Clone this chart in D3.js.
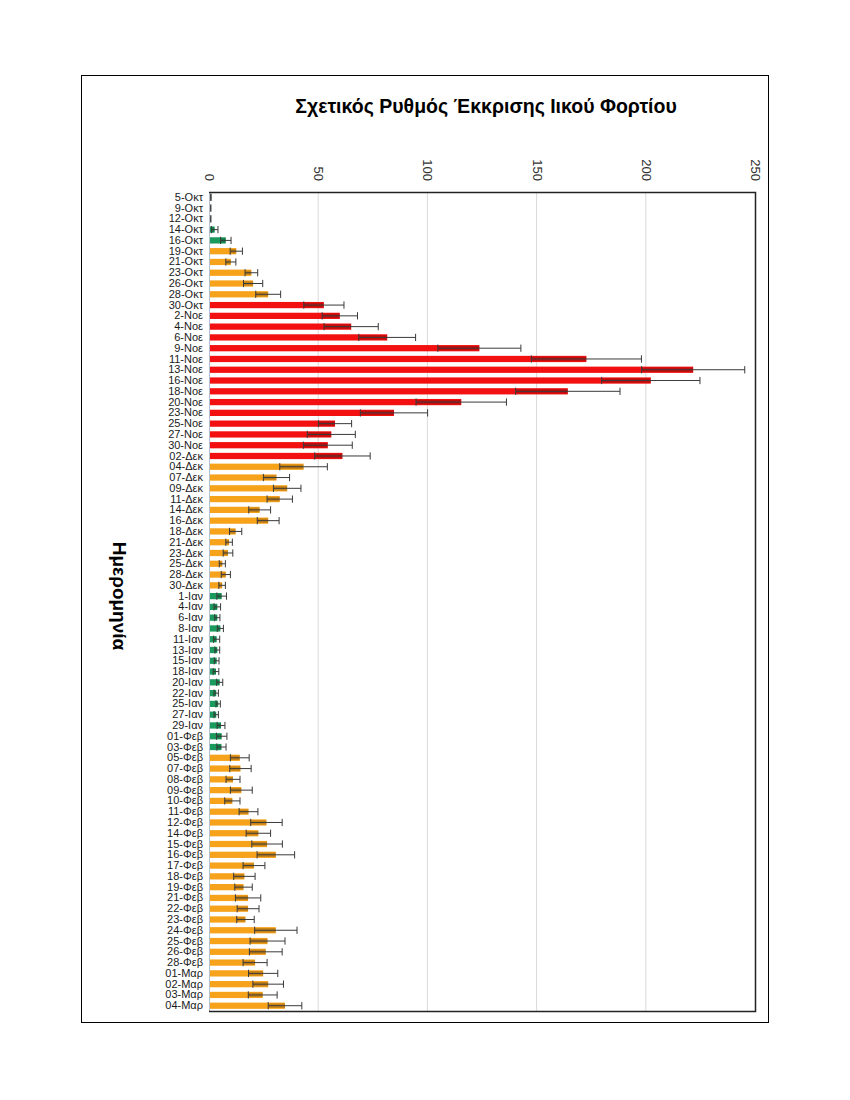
<!DOCTYPE html>
<html>
<head>
<meta charset="utf-8">
<script src="https://cdn.jsdelivr.net/npm/d3@7"></script>
<style>
  body { margin: 0; background: #fff; }
  text { font-family: "Liberation Sans", "Noto Sans", sans-serif; }
</style>
</head>
<body>
<div id="chart"></div>
<script>
var dates = ["5-Οκτ","9-Οκτ","12-Οκτ","14-Οκτ","16-Οκτ","19-Οκτ","21-Οκτ","23-Οκτ","26-Οκτ","28-Οκτ","30-Οκτ",
    "2-Νοε","4-Νοε","6-Νοε","9-Νοε","11-Νοε","13-Νοε","16-Νοε","18-Νοε","20-Νοε","23-Νοε","25-Νοε","27-Νοε","30-Νοε",
    "02-Δεκ","04-Δεκ","07-Δεκ","09-Δεκ","11-Δεκ","14-Δεκ","16-Δεκ","18-Δεκ","21-Δεκ","23-Δεκ","25-Δεκ","28-Δεκ","30-Δεκ",
    "1-Ιαν","4-Ιαν","6-Ιαν","8-Ιαν","11-Ιαν","13-Ιαν","15-Ιαν","18-Ιαν","20-Ιαν","22-Ιαν","25-Ιαν","27-Ιαν","29-Ιαν",
    "01-Φεβ","03-Φεβ","05-Φεβ","07-Φεβ","08-Φεβ","09-Φεβ","10-Φεβ","11-Φεβ","12-Φεβ","14-Φεβ","15-Φεβ","16-Φεβ","17-Φεβ",
    "18-Φεβ","19-Φεβ","21-Φεβ","22-Φεβ","23-Φεβ","24-Φεβ","25-Φεβ","26-Φεβ","28-Φεβ",
    "01-Μαρ","02-Μαρ","03-Μαρ","04-Μαρ"]

var rates = [0.8, 0.7, 0.7, 2.6, 7.7, 12.5, 10, 19.4, 20.2, 27.1, 52.6,
    59.9, 65.1, 81.6, 123.8, 172.8, 221.7, 202.3, 164.3, 115.5, 84.7, 57.7, 56, 54.4,
    61.1, 43.3, 30.9, 35.8, 32.4, 23.2, 27.1, 12.2, 9.2, 8.7, 6.1, 7.7, 6.0,
    5.8, 3.8, 3.8, 5.2, 3.5, 3.8, 3.5, 3.2, 4.9, 3.3, 4.2, 3.3, 5.5,
    5.8, 5.7, 14.1, 14.4, 11, 14.8, 10.7, 18.1, 26.3, 22.6, 26.6, 30.6, 20.6,
    16.2, 15.8, 17.9, 17.9, 16.7, 30.6, 26.8, 26, 21.1,
    24.8, 27.1, 24.6, 34.8]

var errors = [0.2, 0.2, 0.2, 1.5, 2.4, 2.8, 2.3, 2.9, 4.4, 5.7, 9.2,
    8.1, 12.4, 13, 19, 25.2, 23.6, 22.5, 23.9, 20.7, 15.4, 7.6, 11, 11.2,
    12.7, 10.9, 6, 6.3, 5.8, 5, 5, 2.8, 1.5, 2.2, 1.4, 2.1, 1.5,
    2.2, 1.5, 1.2, 1.4, 1.4, 1.1, 1.1, 1.3, 1.4, 1, 1, 1, 1.8,
    2.4, 2.1, 4.3, 4.9, 3.2, 5, 3.5, 4.3, 7.2, 5.6, 7, 8.6, 5,
    4.9, 4, 5.8, 5, 4, 9.7, 8, 7.5, 5.5,
    6.7, 7, 6.6, 7.7]

// n = no signal, g = low, o = medium, r = high
var levels = ["n","n","n","g","g","o","o","o","o","o","r",
    "r","r","r","r","r","r","r","r","r","r","r","r","r",
    "r","o","o","o","o","o","o","o","o","o","o","o","o",
    "g","g","g","g","g","g","g","g","g","g","g","g","g",
    "g","g","o","o","o","o","o","o","o","o","o","o","o",
    "o","o","o","o","o","o","o","o","o",
    "o","o","o","o"]

var xTicks = [0, 50, 100, 150, 200, 250]

var width = 850,
    height = 1100

var plot = { left: 209, right: 755, top: 192, bottom: 1011 }

var data = dates.map(function (d, i) {
    return { date: d, rate: rates[i], err: errors[i], level: levels[i] }
})

var svg = d3.select("#chart")
    .append("svg")
    .attr("width", width)
    .attr("height", height)

svg.append("rect")
    .attr("x", 81.5)
    .attr("y", 75.5)
    .attr("width", 687)
    .attr("height", 947)
    .attr("fill", "#fff")
    .attr("stroke", "#000")

var x = d3.scaleLinear()
    .domain([0, 250])
    .range([plot.left, plot.right])

var y = d3.scaleBand()
    .domain(dates)
    .range([plot.top, plot.bottom])
    .paddingInner(0.42)
    .paddingOuter(0.2)

var color = d3.scaleOrdinal()
    .domain(["n", "g", "o", "r"])
    .range(["#8c8c8c", "#1a9a5c", "#f7a21b", "#f21010"])

// gridlines
svg.append("g")
    .selectAll("line")
    .data(xTicks.slice(1, -1))
    .enter()
    .append("line")
    .attr("x1", function (d) { return x(d) })
    .attr("x2", function (d) { return x(d) })
    .attr("y1", plot.top)
    .attr("y2", plot.bottom)
    .attr("stroke", "#d9d9d9")
    .attr("stroke-width", 1)

// top axis
var xAxis = svg.append("g")
    .attr("transform", "translate(0," + plot.top + ")")
    .call(d3.axisTop(x).tickValues(xTicks).tickSize(0).tickPadding(0))

xAxis.select(".domain").remove()
xAxis.selectAll("text")
    .attr("transform", "translate(0,-11) rotate(90)")
    .attr("x", 0)
    .attr("y", 0)
    .attr("dy", "0.35em")
    .style("text-anchor", "end")
    .style("font-size", "13px")
    .attr("fill", "#333")

// bars
svg.append("g")
    .selectAll("rect")
    .data(data)
    .enter()
    .append("rect")
    .attr("x", x(0))
    .attr("y", function (d) { return y(d.date) })
    .attr("width", function (d) { return x(d.rate) - x(0) })
    .attr("height", y.bandwidth())
    .attr("fill", function (d) { return color(d.level) })

// darker part of the error bar over the bar
svg.append("g")
    .selectAll("rect")
    .data(data)
    .enter()
    .append("rect")
    .attr("x", function (d) { return x(Math.max(0, d.rate - d.err)) })
    .attr("y", function (d) { return y(d.date) + y.bandwidth() * 0.15 })
    .attr("width", function (d) { return x(d.rate) - x(Math.max(0, d.rate - d.err)) })
    .attr("height", y.bandwidth() * 0.7)
    .attr("fill", "#000")
    .attr("opacity", 0.2)

// error bars
var errG = svg.append("g")
    .attr("stroke", "#3a3a3a")
    .attr("stroke-width", 1)

errG.selectAll(".whisker")
    .data(data)
    .enter()
    .append("line")
    .attr("class", "whisker")
    .attr("x1", function (d) { return x(Math.max(0, d.rate - d.err)) })
    .attr("x2", function (d) { return x(d.rate + d.err) })
    .attr("y1", function (d) { return y(d.date) + y.bandwidth() / 2 })
    .attr("y2", function (d) { return y(d.date) + y.bandwidth() / 2 })

errG.selectAll(".capHi")
    .data(data)
    .enter()
    .append("line")
    .attr("class", "capHi")
    .attr("x1", function (d) { return x(d.rate + d.err) })
    .attr("x2", function (d) { return x(d.rate + d.err) })
    .attr("y1", function (d) { return y(d.date) - 0.5 })
    .attr("y2", function (d) { return y(d.date) + y.bandwidth() + 0.5 })

errG.selectAll(".capLo")
    .data(data)
    .enter()
    .append("line")
    .attr("class", "capLo")
    .attr("x1", function (d) { return x(Math.max(0, d.rate - d.err)) })
    .attr("x2", function (d) { return x(Math.max(0, d.rate - d.err)) })
    .attr("y1", function (d) { return y(d.date) - 0.5 })
    .attr("y2", function (d) { return y(d.date) + y.bandwidth() + 0.5 })

// left axis with date labels
var yAxis = svg.append("g")
    .attr("transform", "translate(" + plot.left + ",0)")
    .call(d3.axisLeft(y).tickSize(0).tickPadding(6))

yAxis.select(".domain").attr("stroke", "#b4bfd0")
yAxis.selectAll("text")
    .style("font-size", "11px")
    .attr("fill", "#1a1a1a")

// frame: top, right, bottom
svg.append("path")
    .attr("d", "M" + plot.left + "," + (plot.top + 0.5) +
        "H" + (plot.right + 0.5) + "V" + (plot.bottom + 0.5) + "H" + plot.left)
    .attr("fill", "none")
    .attr("stroke", "#222")
    .attr("stroke-width", 1.5)

svg.append("text")
    .attr("x", 486)
    .attr("y", 113)
    .attr("text-anchor", "middle")
    .style("font-size", "19.5px")
    .style("font-weight", "bold")
    .attr("fill", "#000")
    .text("Σχετικός Ρυθμός Έκκρισης Ιικού Φορτίου")

svg.append("text")
    .attr("transform", "translate(113,596) rotate(90)")
    .attr("text-anchor", "middle")
    .style("font-size", "19px")
    .style("font-weight", "bold")
    .attr("fill", "#000")
    .text("Ημερομηνία")
</script>
</body>
</html>
